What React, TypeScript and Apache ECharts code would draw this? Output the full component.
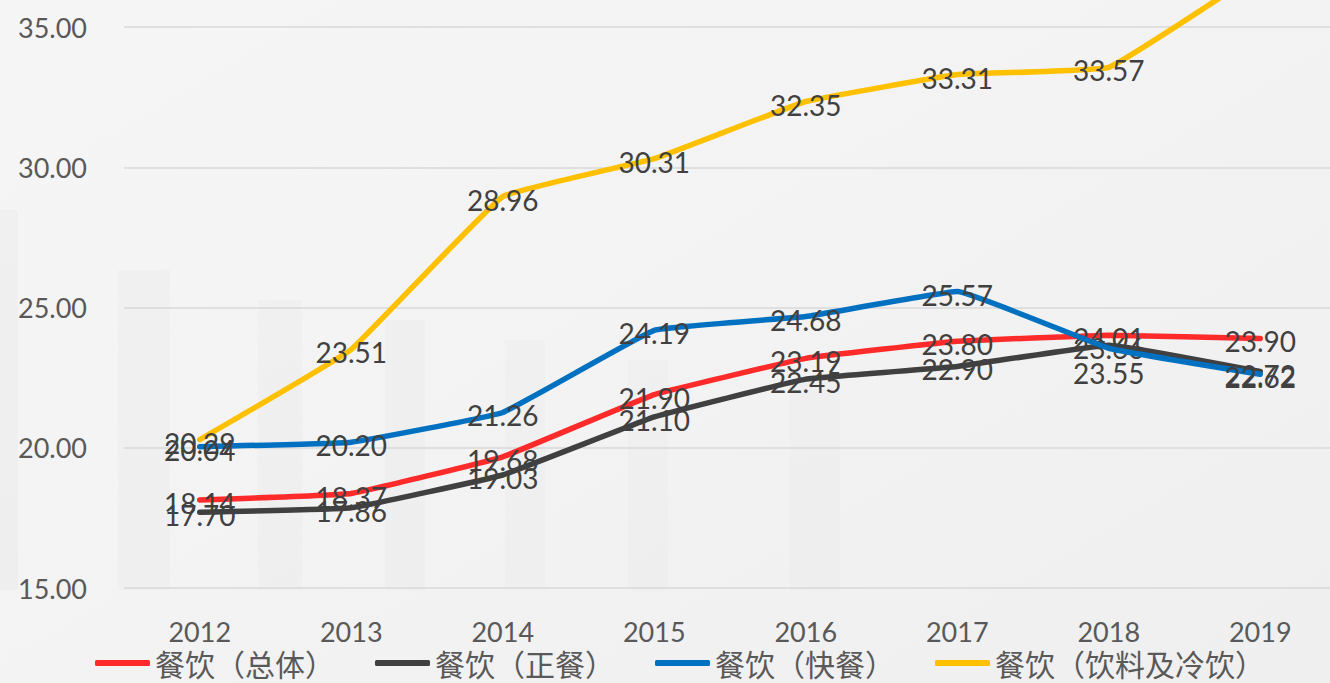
import React, { useEffect, useRef } from "react";
import * as echarts from "echarts";

const years = ["2012", "2013", "2014", "2015", "2016", "2017", "2018", "2019"];
const seriesNames = ["餐饮（总体）", "餐饮（正餐）", "餐饮（快餐）", "餐饮（饮料及冷饮）"];
const overall = [18.14, 18.37, 19.68, 21.9, 23.19, 23.8, 24.01, 23.9];
const fullService = [17.7, 17.86, 19.03, 21.1, 22.45, 22.9, 23.66, 22.72];
const fastFood = [20.04, 20.2, 21.26, 24.19, 24.68, 25.57, 23.55, 22.62];
const beverages = [20.29, 23.51, 28.96, 30.31, 32.35, 33.31, 33.57, 37.0];
const colors = ["#FF2A2A", "#404040", "#0070C0", "#FFC000"];

// The chart canvas extends above the visible page so that the 40.00 line sits off-screen.
const SHIFT = 113;

export default function App() {
  const ref = useRef<HTMLDivElement>(null);
  useEffect(() => {
    if (!ref.current) return;
    const chart = echarts.init(ref.current, undefined, { renderer: "svg" });
    const allData = [overall, fullService, fastFood, beverages];
    const labelFont = "Lato, 'Noto Sans CJK SC', sans-serif";
    const series = allData.map((d, si) => ({
      name: seriesNames[si],
      type: "line",
      smooth: 0.08,
      symbol: "circle",
      symbolSize: 1,
      itemStyle: { color: colors[si] },
      lineStyle: { color: colors[si], width: 5.5, cap: "round", join: "round" },
      label: {
        show: true,
        position: "inside",
        offset: [0, 3],
        color: "#404040",
        fontSize: 28,
        fontFamily: labelFont,
        formatter: (p: any) => Number(p.value).toFixed(2),
      },
      emphasis: { disabled: true },
      data: d.map((v, i) =>
        si === 2 && i === 6 ? { value: v, label: { offset: [0, 25] } } : v
      ),
      z: 2 + si,
    }));
    const pillar = (x: number, y: number, w: number, h: number, a: number) => ({
      type: "rect",
      z: -10,
      silent: true,
      shape: { x, y: y + SHIFT, width: w, height: h },
      style: { fill: `rgba(0,0,0,${a})` },
    });
    chart.setOption({
      animation: false,
      backgroundColor: {
        type: "linear",
        x: 0,
        y: 0,
        x2: 1,
        y2: 1,
        colorStops: [
          { offset: 0, color: "#f6f6f6" },
          { offset: 0.5, color: "#f3f3f3" },
          { offset: 1, color: "#efefef" },
        ],
      },
      graphic: [
        pillar(0, 210, 18, 380, 0.02),
        pillar(118, 270, 52, 320, 0.015),
        pillar(258, 300, 44, 290, 0.015),
        pillar(385, 320, 40, 270, 0.014),
        pillar(505, 340, 40, 250, 0.012),
        pillar(628, 360, 40, 230, 0.01),
        pillar(790, 380, 50, 210, 0.01),
      ],
      grid: {
        left: 124,
        right: -6,
        top: 0,
        bottom: 95,
        containLabel: false,
        outerBoundsMode: "none",
      },
      legend: {
        data: seriesNames,
        left: 95,
        top: 648 + SHIFT,
        padding: 0,
        itemWidth: 55,
        itemHeight: 6,
        itemGap: 40,
        icon: "roundRect",
        textStyle: {
          color: "#595959",
          fontSize: 30,
          fontFamily: "'Noto Sans CJK SC', sans-serif",
        },
      },
      xAxis: {
        type: "category",
        data: years,
        boundaryGap: true,
        axisLine: { show: false },
        axisTick: { show: false },
        axisLabel: { color: "#595959", fontSize: 27, fontFamily: labelFont, margin: 30 },
      },
      yAxis: {
        type: "value",
        min: 15,
        max: 40,
        interval: 5,
        axisLine: { show: false },
        axisTick: { show: false },
        splitLine: { lineStyle: { color: "#d9d9d9", width: 1.5 } },
        axisLabel: {
          color: "#595959",
          fontSize: 27,
          fontFamily: labelFont,
          margin: 37,
          formatter: (v: number) => v.toFixed(2),
        },
      },
      series,
    });
    return () => chart.dispose();
  }, []);
  return (
    <div
      ref={ref}
      style={{ width: 1330, height: 683 + SHIFT, position: "fixed", left: 0, top: -SHIFT }}
    />
  );
}
